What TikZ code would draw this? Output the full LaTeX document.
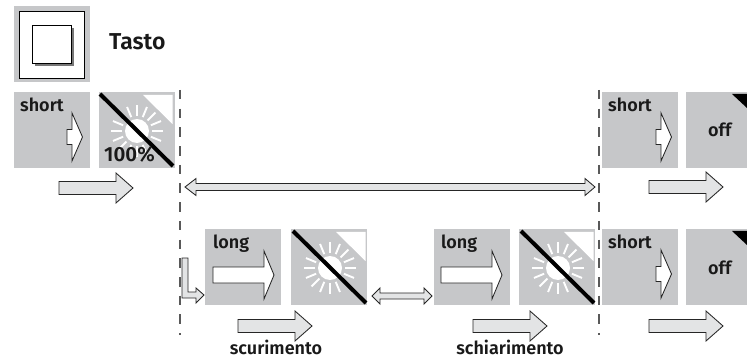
\documentclass[tikz,border=0pt]{standalone}
\usepackage{fontspec}
\setmainfont{Fira Sans}[BoldFont={Fira Sans SemiBold}]
\definecolor{tilegray}{HTML}{C6C7C9}
\definecolor{arrowgray}{HTML}{E3E4E5}
\definecolor{shadowgray}{HTML}{777777}
\tikzset{
  x=1pt,y=-1pt,
  tile/.style={fill=tilegray,draw=none},
  outl/.style={draw=black!85,line width=0.85pt,line join=miter},
  lab/.style={font=\bfseries\fontsize{18}{19}\selectfont,inner sep=0pt,text=black!90},
  dashv/.style={draw=black!65,line width=1.2pt,dash pattern=on 9.5pt off 9.2pt},
  bar/.style={line width=4pt,black,line cap=butt},
  ray/.style={white,line width=1.9pt},
  grayarrow/.pic={\path[outl,fill=arrowgray] (0,-6.5)--(57,-6.5)--(57,-15)--(74,0)--(57,15)--(57,6.5)--(0,6.5)--cycle;},
  shortarrow/.pic={\path[outl,fill=white] (0,-7.5)--(5,-7.5)--(5,-24)--(15.5,0)--(5,24)--(5,7.5)--(0,7.5)--cycle;},
  longarrow/.pic={\path[outl,fill=white] (0,-8)--(51,-8)--(51,-24)--(61,0)--(51,24)--(51,8)--(0,8)--cycle;},
  sun/.pic={
    \foreach \a in {0,22.5,...,337.5}{\draw[ray] (\a:15) -- (\a:26);}
    \fill[white] (0,0) circle (12);
    \fill[white] (6,-36) -- (35.5,-36) -- (35.5,-7) -- cycle;
    \draw[bar] (-37,-37) -- (36,35);
  },
}
\begin{document}
\begin{tikzpicture}
\useasboundingbox (0,0) rectangle (747,358);
% key
\fill[tilegray] (14,6) rectangle (90,82);
\draw[fill=white,line width=0.8pt] (19.5,11.5) rectangle (84,78);
\fill[shadowgray] (35,28) rectangle (74,66);
\draw[fill=white,line width=0.7pt] (32,25) rectangle (71,63);
\node[anchor=base west,lab,font=\bfseries\fontsize{23}{24}\selectfont] (tasto) at (109,50) {Tasto};
% dashed
\coordinate (d1a) at (180,90); \coordinate (d1b) at (180,334.5);
\coordinate (d2a) at (599,90); \coordinate (d2b) at (599,334.5);
\draw[dashv] (d1a) -- (d1b);
\draw[dashv] (d2a) -- (d2b);
% tiles row 1
\fill[tile] (14,92) rectangle (90,168);
\node[lab,anchor=base west] (s1) at (20,112) {short};
\pic at (67,137) {shortarrow};
\fill[tile] (99,92) rectangle (175,168);
\pic at (137,131) {sun};
\node[lab,anchor=base west,font=\bfseries\fontsize{20.5}{21}\selectfont] (pc) at (104,162) {100\%};
\pic at (59,188) {grayarrow};
\fill[tile] (602,92) rectangle (678,168);
\node[lab,anchor=base west] (s2) at (608,112) {short};
\pic at (656,137) {shortarrow};
\fill[tile] (686,92) rectangle (747,168);
\fill[black] (732,94) -- (747,94) -- (747,108) -- cycle;
\node[lab,anchor=base west] (o1) at (708,137) {off};
\pic at (649,187) {grayarrow};
% long double arrow
\draw[outl,fill=arrowgray] (185,187) -- (196,178.5) -- (196,183.5) -- (585,183.5) -- (585,178.5) -- (595,187) -- (585,195.5) -- (585,190.5) -- (196,190.5) -- (196,195.5) -- cycle;
% row 2
\fill[tile] (205,229) rectangle (281,305);
\node[lab,anchor=base west] (l1) at (213,249) {long};
\pic at (213,275) {longarrow};
\fill[tile] (291,229) rectangle (367,305);
\pic at (330,268) {sun};
\fill[tile] (434,229) rectangle (510,305);
\node[lab,anchor=base west] (l2) at (441,249) {long};
\pic at (441,275) {longarrow};
\fill[tile] (519,229) rectangle (595,305);
\pic at (558,268) {sun};
\fill[tile] (602,229) rectangle (678,305);
\node[lab,anchor=base west] (s3) at (608,249) {short};
\pic at (656,274) {shortarrow};
\fill[tile] (686,229) rectangle (747,305);
\fill[black] (732,231) -- (747,231) -- (747,245) -- cycle;
\node[lab,anchor=base west] (o2) at (708,274) {off};
% L arrow
\draw[outl,fill=arrowgray] (182,258) -- (188,258) -- (188,292) -- (196,292) -- (196,288) -- (204,295) -- (196,303) -- (196,298) -- (182,298) -- cycle;
% small double arrow
\draw[outl,fill=arrowgray] (372,296) -- (380,288) -- (380,293) -- (424,293) -- (424,288) -- (432,296) -- (424,304) -- (424,299) -- (380,299) -- (380,304) -- cycle;
% gray arrows row 2
\pic at (238,326) {grayarrow};
\pic at (473,326) {grayarrow};
\pic at (649,326) {grayarrow};
\node[lab,anchor=base] (sc) at (276,354) {scurimento};
\node[lab,anchor=base] (sch) at (510,354) {schiarimento};
\end{tikzpicture}
\end{document}
